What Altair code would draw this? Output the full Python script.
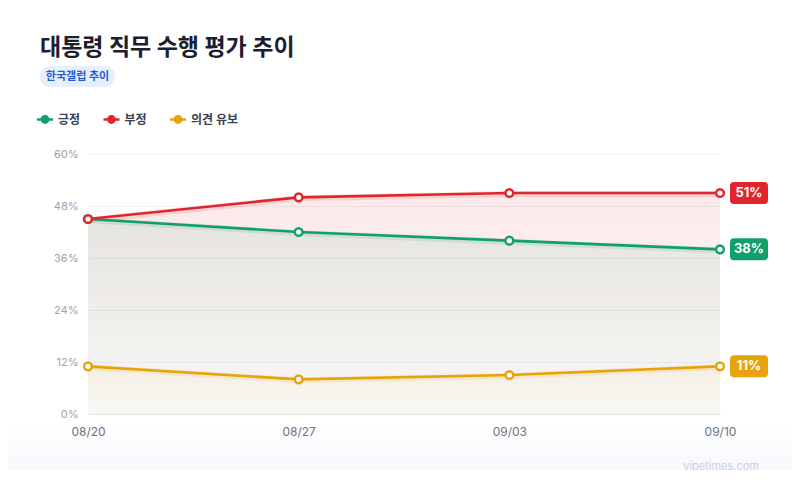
import altair as alt
import pandas as pd

# ---- data ----
dates = ["08/20", "08/27", "09/03", "09/10"]
series_names = ["긍정", "부정", "의견 유보"]
positive = [45, 42, 40, 38]
negative = [45, 50, 51, 51]
undecided = [11, 8, 9, 11]
series_colors = ["#11a06c", "#e0262b", "#e8a20a"]
y_ticks = [0, 12, 24, 36, 48, 60]

title_text = "대통령 직무 수행 평가 추이"
badge_text = "한국갤럽 추이"
watermark_text = "vibetimes.com"

FONT = "Inter, 'Noto Sans CJK KR', sans-serif"

rows = []
for name, vals in [("긍정", positive), ("의견 유보", undecided), ("부정", negative)]:
    for d, v in zip(dates, vals):
        rows.append({"date": d, "series": name, "value": v, "label": f"{v}%"})
df = pd.DataFrame(rows)
last = df[df["date"] == dates[-1]]
legend_df = pd.DataFrame({"series": series_names})

x_enc = alt.X("date:O", sort=dates, scale=alt.Scale(type="point", padding=0),
              axis=alt.Axis(title=None, labelAngle=0, labelColor="#6b7280", labelFontSize=12,
                            labelPadding=12, ticks=False, domain=True, domainColor="#e5e7eb",
                            domainWidth=1.5, grid=False, labelFont=FONT, zindex=2))
y_enc = alt.Y("value:Q", scale=alt.Scale(domain=[0, 60], nice=False),
              axis=alt.Axis(title=None, values=y_ticks, labelExpr="datum.value + '%'",
                            labelColor="#9ca3af", labelFontSize=11, labelPadding=10,
                            ticks=False, domain=False, gridColor="#f1f2f4", labelFont=FONT))

color_scale = alt.Scale(domain=series_names, range=series_colors)
legend_sym = ("M-1,-0.17 H1 V0.17 H-1 Z "
              "M-0.55,0 A0.55,0.55 0 1 1 0.55,0 A0.55,0.55 0 1 1 -0.55,0 Z")

base = alt.Chart(df)


def grad(rgb, a_top, a_bot):
    return alt.Gradient(
        gradient="linear", x1=1, x2=1, y1=0, y2=1,
        stops=[alt.GradientStop(color=f"rgba({rgb},{a_top})", offset=0),
               alt.GradientStop(color=f"rgba({rgb},{a_bot})", offset=1)])


area_red = base.transform_filter(alt.datum.series == "부정").mark_area(
    color=grad("224,38,43", 0.10, 0.02)).encode(x=x_enc, y=y_enc)
area_green = base.transform_filter(alt.datum.series == "긍정").mark_area(
    color=grad("17,160,108", 0.095, 0.02)).encode(x=x_enc, y=y_enc)
area_yellow = base.transform_filter(alt.datum.series == "의견 유보").mark_area(
    color=grad("232,162,10", 0.06, 0.01)).encode(x=x_enc, y=y_enc)

glow = base.mark_line(strokeWidth=6, opacity=0.12, yOffset=1).encode(
    x=x_enc, y=y_enc, stroke=alt.Stroke("series:N", scale=color_scale, legend=None),
    detail="series:N")
lines = base.mark_line(strokeWidth=2.6).encode(
    x=x_enc, y=y_enc, stroke=alt.Stroke("series:N", scale=color_scale, legend=None),
    detail="series:N")
points = base.mark_point(filled=False, fill="white", fillOpacity=1, size=60, strokeWidth=2.5,
                         opacity=1).encode(
    x=x_enc, y=y_enc, stroke=alt.Stroke("series:N", scale=color_scale, legend=None))

rrect = ("M-0.79,-0.58 L0.79,-0.58 Q1,-0.58 1,-0.37 L1,0.37 Q1,0.58 0.79,0.58 "
         "L-0.79,0.58 Q-1,0.58 -1,0.37 L-1,-0.37 Q-1,-0.58 -0.79,-0.58 Z")

end_boxes = alt.Chart(last).mark_point(shape=rrect, size=1444, filled=True, opacity=1,
                                       xOffset=29).encode(
    x=x_enc, y=y_enc, color=alt.Color("series:N", scale=color_scale, legend=None))
end_text = alt.Chart(last).mark_text(dx=29, color="white", fontSize=13, fontWeight="bold",
                                     font=FONT).encode(x=x_enc, y=y_enc, text="label:N")

one = pd.DataFrame({"t": [title_text], "b": [badge_text], "w": [watermark_text]})
bottom_bg = alt.Chart(one).mark_rect(
    color=alt.Gradient(gradient="linear", x1=1, x2=1, y1=0, y2=1,
                       stops=[alt.GradientStop(color="#ffffff", offset=0),
                              alt.GradientStop(color="#f7f8fc", offset=1)])).encode(
    x=alt.value(-80), x2=alt.value(704), y=alt.value(268), y2=alt.value(316))
title = alt.Chart(one).mark_text(align="left", baseline="middle", fontSize=23, fontWeight="bold",
                                 color="#1a2030", font=FONT).encode(
    x=alt.value(-48), y=alt.value(-106), text="t:N")
badge = alt.Chart(one).mark_rect(color="#e8effc", cornerRadius=10).encode(
    x=alt.value(-48), x2=alt.value(27), y=alt.value(-88), y2=alt.value(-67))
badge_t = alt.Chart(one).mark_text(align="center", baseline="middle", fontSize=11,
                                   fontWeight="bold", color="#1f5fd8", font=FONT).encode(
    x=alt.value(-10.5), y=alt.value(-77.5), text="b:N")
watermark = alt.Chart(one).mark_text(align="right", baseline="middle", fontSize=11,
                                     color="#cbd2de", font=FONT).encode(
    x=alt.value(671), y=alt.value(313), text="w:N")

main = alt.layer(
    bottom_bg, area_red, area_green, area_yellow, glow, lines, points, end_boxes, end_text,
    title, badge, badge_t, watermark,
)

# legend row (series keys laid out by a point scale)
leg_x = alt.X("series:N", sort=series_names, axis=None,
              scale=alt.Scale(type="point", domain=series_names, range=[-43, 90], padding=0))
leg_sym = alt.Chart(legend_df).mark_point(shape=legend_sym, size=256, filled=True,
                                          opacity=1).encode(
    x=leg_x, y=alt.value(-34.5), color=alt.Color("series:N", scale=color_scale, legend=None))
leg_txt = alt.Chart(legend_df).mark_text(align="left", baseline="middle", dx=13, fontSize=12,
                                         fontWeight="bold", color="#374151", font=FONT).encode(
    x=leg_x, y=alt.value(-34.5), text="series:N")
legend_layer = alt.layer(leg_sym, leg_txt)

chart = alt.layer(main, legend_layer).resolve_scale(x="independent").properties(
    width=632, height=260,
    autosize=alt.AutoSizeParams(type="none"),
    padding={"left": 80, "top": 146, "right": 72, "bottom": 64},
    background="white",
).configure_view(stroke=None)

chart.save("out.html", embed_options={"renderer": "svg", "actions": False})
